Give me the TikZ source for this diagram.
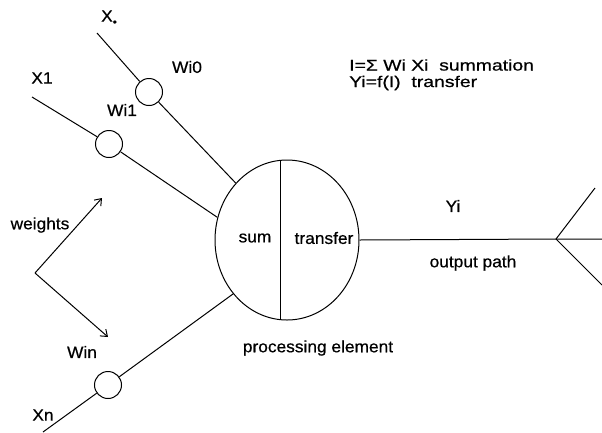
\documentclass[tikz,border=0pt]{standalone}
\usepackage{fontspec}
\setmainfont{Liberation Sans}
\newfontfamily\labelsans[FakeStretch=1.05,FakeBold=0.6]{Liberation Sans}
\newfontfamily\notesans[FakeStretch=1.25,FakeBold=0.6]{Liberation Sans}
\usetikzlibrary{shapes.geometric,arrows.meta}
\begin{document}
\begin{tikzpicture}[x=1pt,y=-1pt,
  wire/.style={line width=1pt},
  weightnode/.style={circle,draw,line width=1pt,minimum size=27pt,inner sep=0pt},
  penode/.style={ellipse,draw,line width=1pt,minimum width=144pt,minimum height=160pt,inner sep=0pt},
  lbl/.style={font=\labelsans\fontsize{16.5}{18}\selectfont,inner sep=0pt},
  note/.style={font=\notesans\fontsize{15.5}{17}\selectfont,inner sep=0pt,anchor=west},
  barb/.style={wire,-{Straight Barb[length=6pt,width=9pt]}}]
\useasboundingbox (0,0) rectangle (602,432);

% processing element
\node[penode] (pe) at (287,240) {};
\draw[wire] (280,160.4) -- (280,319.6);
\node[lbl] (sum) at (255,238) {sum};
\node[lbl] (tr) at (324,238) {transfer};
\node[lbl] (proc) at (318,348) {processing element};

% weights
\node[weightnode] (w0) at (149,92) {};
\node[weightnode] (w1) at (109,144) {};
\node[weightnode] (wn) at (108,385) {};

% inputs
\coordinate (x0e) at (97,33);
\coordinate (x1e) at (32,97);
\coordinate (xne) at (43,432);
\node[lbl] (x0) at (109,18) {X\raisebox{-4pt}{\fontsize{11}{11}\selectfont\textbullet}};
\node[lbl] (x1) at (42,78) {X1};
\node[lbl] (xn) at (43,415) {Xn};
\node[lbl] (lw0) at (187,67) {Wi0};
\node[lbl] (lw1) at (122,110) {Wi1};
\node[lbl] (lwn) at (82,352) {Win};

\draw[wire] (x0e) -- (w0);
\draw[wire] (w0) -- (pe.132);
\draw[wire] (x1e) -- (w1);
\draw[wire] (w1) -- (pe.162);
\draw[wire] (xne) -- (wn);
\draw[wire] (wn) -- (pe.225);

% weights annotation
\node[lbl] (wts) at (40,225) {weights};
\coordinate (apx) at (35,273);
\coordinate (aup) at (102,198);
\coordinate (adn) at (108,337);
\draw[barb] (apx) -- (aup);
\draw[barb] (apx) -- (adn);

% output path with fan-out
\coordinate (fork) at (556,239);
\coordinate (fa) at (595,188);
\coordinate (fb) at (602,285);
\coordinate (fc) at (602,239);
\draw[wire] (pe.east) -- (fork) -- (fc);
\draw[wire] (fa) -- (fork) -- (fb);
\node[lbl] (yi) at (453,206) {Yi};
\node[lbl] (op) at (473,263) {output path};

% equations
\node[note] (eq1) at (349,65) {I=Σ Wi Xi\ \ summation};
\node[note] (eq2) at (349,83) {Yi=f(I)\ \ transfer};
\end{tikzpicture}
\end{document}
